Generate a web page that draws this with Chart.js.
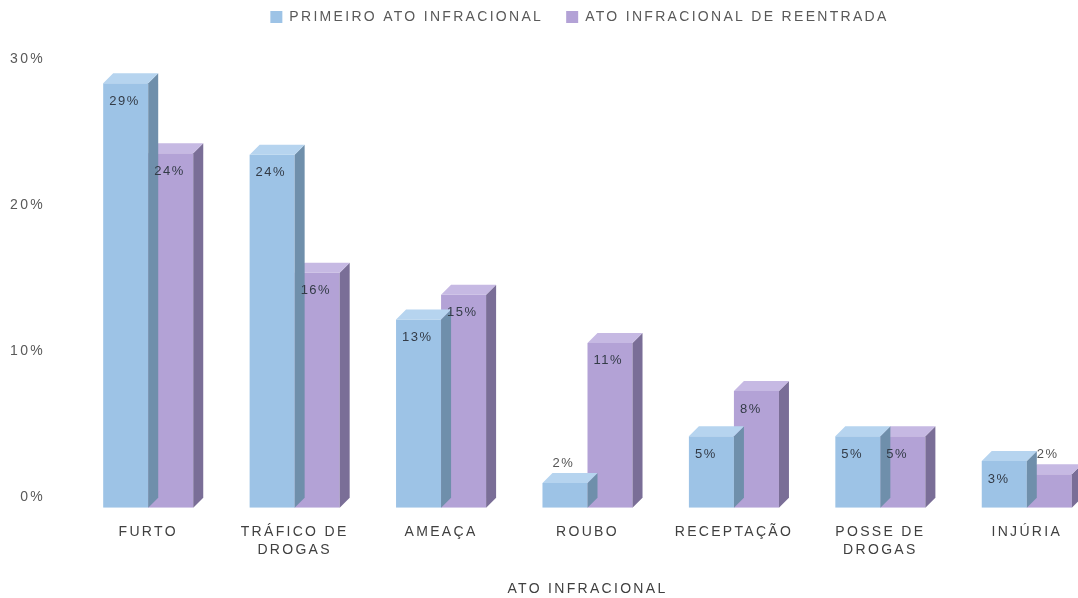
<!DOCTYPE html>
<html>
<head>
<meta charset="utf-8">
<script src="https://cdn.jsdelivr.net/npm/chart.js@4"></script>
<style>
  html, body { margin: 0; padding: 0; background: #fff; overflow: hidden; width: 1078px; height: 598px; }
  #wrap { width: 1100px; height: 598px; position: relative; }
</style>
</head>
<body>
<div id="wrap"><canvas id="atoChart"></canvas></div>
<script>
// dados
const categories = ['FURTO', ['TRÁFICO DE', 'DROGAS'], 'AMEAÇA', 'ROUBO', 'RECEPTAÇÃO', ['POSSE DE', 'DROGAS'], 'INJÚRIA'];
const seriesNames = ['PRIMEIRO ATO INFRACIONAL', 'ATO INFRACIONAL DE REENTRADA'];
const primeiroAto = [29.1, 24.2, 12.9, 1.7, 4.9, 4.9, 3.2];
const reentrada = [24.3, 16.1, 14.6, 11.3, 8.0, 4.9, 2.3];
const yTicks = [0, 10, 20, 30];

const frontColors = ['#9dc3e6', '#b3a2d6'];
const sideColors = ['#6f8fab', '#7a6e97'];
const topColors = ['#b6d4ef', '#c6b9e3'];
const depth = 10;
const fontFamily = "'Liberation Sans', Arial, sans-serif";

// espaçamento das letras (o original está esticado na horizontal)
const spacingPlugin = {
    id: 'spacing',
    beforeUpdate(chart) { chart.ctx.letterSpacing = '2.3px'; },
    beforeDraw(chart) { chart.ctx.letterSpacing = '2.3px'; }
};

// espaço entre a legenda e o gráfico, e posição da legenda
const legendGap = {
    id: 'legendGap',
    beforeInit(chart) {
        const fit = chart.legend.fit;
        chart.legend.fit = function () {
            fit.call(this);
            this.height += 23;
        };
    },
    afterLayout(chart) {
        const lg = chart.legend;
        lg.top -= 13;
        lg.left -= 8;
        lg.right -= 8;
    }
};

// faces superior e lateral das barras (efeito 3D)
const bar3d = {
    id: 'bar3d',
    afterDatasetDraw(chart, args) {
        const ctx = chart.ctx;
        const i = args.index;
        ctx.save();
        args.meta.data.forEach(bar => {
            const p = bar.getProps(['x', 'y', 'base', 'width'], true);
            const l = p.x - p.width / 2, r = p.x + p.width / 2;
            ctx.fillStyle = sideColors[i];
            ctx.beginPath();
            ctx.moveTo(r, p.y);
            ctx.lineTo(r + depth, p.y - depth);
            ctx.lineTo(r + depth, p.base - depth);
            ctx.lineTo(r, p.base);
            ctx.closePath();
            ctx.fill();
            ctx.fillStyle = topColors[i];
            ctx.beginPath();
            ctx.moveTo(l, p.y);
            ctx.lineTo(l + depth, p.y - depth);
            ctx.lineTo(r + depth, p.y - depth);
            ctx.lineTo(r, p.y);
            ctx.closePath();
            ctx.fill();
        });
        ctx.restore();
    },
    afterDatasetsDraw(chart) {
        const ctx = chart.ctx;
        ctx.save();
        ctx.letterSpacing = '1.5px';
        ctx.font = '13px ' + fontFamily;
        ctx.textAlign = 'left';
        ctx.textBaseline = 'middle';
        chart.data.datasets.forEach((ds, i) => {
            chart.getDatasetMeta(i).data.forEach((bar, j) => {
                const v = ds.data[j];
                const p = bar.getProps(['x', 'y', 'width'], true);
                const l = p.x - p.width / 2;
                const txt = Math.round(v) + '%';
                if (v < 3) {
                    ctx.fillStyle = '#555';
                    ctx.fillText(txt, l + 10, p.y - 20);
                } else {
                    ctx.fillStyle = '#333b47';
                    ctx.fillText(txt, l + 6, p.y + 18);
                }
            });
        });
        ctx.restore();
    }
};

new Chart(document.getElementById('atoChart'), {
    type: 'bar',
    data: {
        labels: categories,
        datasets: [
            { label: seriesNames[0], data: primeiroAto, backgroundColor: frontColors[0], borderWidth: 0 },
            { label: seriesNames[1], data: reentrada, backgroundColor: frontColors[1], borderWidth: 0 }
        ]
    },
    options: {
        responsive: true,
        maintainAspectRatio: false,
        animation: false,
        layout: { padding: 0 },
        datasets: { bar: { barPercentage: 1, categoryPercentage: 0.615 } },
        plugins: {
            legend: {
                position: 'top',
                fullSize: false,
                labels: {
                    boxWidth: 12,
                    boxHeight: 12,
                    padding: 23,
                    color: '#595959',
                    font: { size: 14, family: fontFamily }
                }
            },
            tooltip: { enabled: false }
        },
        scales: {
            y: {
                min: 0,
                max: 30,
                afterBuildTicks: axis => { axis.ticks = yTicks.map(v => ({ value: v })); },
                afterFit: axis => { axis.width = 75; },
                grid: { display: false, drawTicks: false },
                border: { display: false },
                ticks: {
                    padding: 30,
                    labelOffset: -11,
                    color: '#595959',
                    font: { size: 14, family: fontFamily },
                    callback: v => v + '%'
                }
            },
            x: {
                grid: { display: false, drawTicks: false },
                border: { display: false },
                ticks: {
                    padding: 15,
                    maxRotation: 0,
                    autoSkip: false,
                    color: '#404040',
                    font: { size: 14, family: fontFamily, lineHeight: 1.3 }
                },
                title: {
                    display: true,
                    text: 'ATO INFRACIONAL',
                    color: '#404040',
                    padding: { top: 7, bottom: 0 },
                    font: { size: 14, family: fontFamily, lineHeight: 1.2 }
                }
            }
        }
    },
    plugins: [spacingPlugin, legendGap, bar3d]
});
</script>
</body>
</html>
